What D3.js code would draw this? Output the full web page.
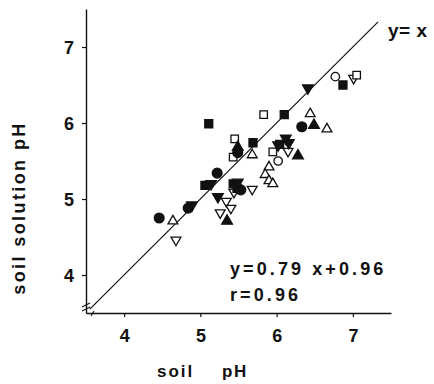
<!DOCTYPE html>
<html><head><meta charset="utf-8">
<script src="https://cdn.jsdelivr.net/npm/d3@7"></script>
<style>
html,body{margin:0;padding:0;background:#fff;}
svg{display:block;}
</style></head>
<body>
<svg id="chart" width="434" height="384"></svg>
<script>
// ---- data: [soil pH, soil solution pH] ----
const filledCircle = [[6.33,5.95],[5.49,5.61],[5.22,5.34],[5.53,5.12],[4.84,4.88],[4.46,4.75]];
const openCircle = [[6.77,6.61],[6.02,5.50]];
const filledSquare = [[6.87,6.50],[6.10,6.11],[5.11,5.99],[5.69,5.74],[6.04,5.72],[5.06,5.18],[5.43,5.20],[5.48,5.14]];
const openSquare = [[7.05,6.63],[5.83,6.11],[5.45,5.79],[5.43,5.55],[5.95,5.62]];
const filledTriUp = [[6.49,5.97],[5.49,5.68],[6.28,5.57],[5.35,4.71]];
const openTriUp = [[6.44,6.12],[6.66,5.92],[5.68,5.58],[5.90,5.42],[5.85,5.32],[5.90,5.24],[5.95,5.20],[4.64,4.71]];
const filledTriDown = [[6.41,6.46],[6.12,5.80],[6.16,5.74],[6.02,5.71],[5.14,5.20],[5.49,5.22],[5.23,5.03],[4.89,4.92]];
const openTriDown = [[7.01,6.59],[6.15,5.63],[5.68,5.13],[5.44,5.09],[5.34,4.97],[5.40,4.88],[5.26,4.82],[4.68,4.46]];
const xTicks = [4,5,6,7];
const yTicks = [4,5,6,7];
const identityLine = [[3.55,3.55],[7.33,7.33]];
const eqText = "y=0.79 x+0.96";
const rText = "r=0.96";

const svg = d3.select("#chart");
const x = d3.scaleLinear().domain([3.5,7.5]).range([86,391]);
const y = d3.scaleLinear().domain([3.5,7.5]).range([313,9]);
const ink = "#111";
const fmt = d3.format("d");

// axes
const xAxis = svg.append("g").attr("transform","translate(0,313)")
  .call(d3.axisBottom(x).tickValues(xTicks).tickFormat(fmt).tickSize(4).tickSizeOuter(0).tickPadding(9));
const yAxis = svg.append("g").attr("transform","translate(86,0)")
  .call(d3.axisLeft(y).tickValues(yTicks).tickFormat(fmt).tickSize(4).tickSizeOuter(0).tickPadding(8));
[xAxis,yAxis].forEach(g=>{
  g.select(".domain").attr("stroke",ink).attr("stroke-width",1.4);
  g.selectAll(".tick line").attr("stroke",ink).attr("stroke-width",1.2);
  g.selectAll(".tick text").attr("fill",ink)
    .style("font-family","'Liberation Sans',Arial,sans-serif")
    .style("font-weight","bold").style("font-size","18px");
});
xAxis.selectAll(".tick text").attr("dy","0.9em");
yAxis.selectAll(".tick text").attr("dy","0.36em");

// axis break marks
const brk = svg.append("g").attr("stroke",ink).attr("stroke-width",1.1);
[305,309].forEach(v=>{
  brk.append("line").attr("x1",82).attr("y1",v+2).attr("x2",90).attr("y2",v-2);
});
brk.append("line").attr("x1",91).attr("y1",316).attr("x2",94).attr("y2",311);

// y = x line
svg.append("path")
  .attr("d", d3.line().x(d=>x(d[0])).y(d=>y(d[1]))(identityLine))
  .attr("stroke",ink).attr("stroke-width",1.2).attr("fill","none");

// symbols
const sets = [
  {data:openTriUp, type:d3.symbolTriangle, size:42, fill:"#fff", rot:0},
  {data:openTriDown, type:d3.symbolTriangle, size:42, fill:"#fff", rot:180},
  {data:openSquare, type:d3.symbolSquare, size:56, fill:"#fff", rot:0},
  {data:openCircle, type:d3.symbolCircle, size:56, fill:"#fff", rot:0},
  {data:filledSquare, type:d3.symbolSquare, size:64, fill:ink, rot:0},
  {data:filledCircle, type:d3.symbolCircle, size:76, fill:ink, rot:0},
  {data:filledTriUp, type:d3.symbolTriangle, size:50, fill:ink, rot:0},
  {data:filledTriDown, type:d3.symbolTriangle, size:50, fill:ink, rot:180}
];
sets.forEach(s=>{
  svg.append("g").selectAll("path").data(s.data).join("path")
    .attr("d", d3.symbol().type(s.type).size(s.size)())
    .attr("transform", d=>`translate(${x(d[0])},${y(d[1])}) rotate(${s.rot})`)
    .attr("fill", s.fill).attr("stroke", ink).attr("stroke-width", 1.3);
});

// texts
const txt = (t,px,py,opts={})=>svg.append("text").text(t)
  .attr("x",px).attr("y",py).attr("fill",ink)
  .style("font-family","'Liberation Sans',Arial,sans-serif")
  .style("font-weight",opts.w||"bold").style("font-size",(opts.fs||17)+"px")
  .style("letter-spacing",(opts.ls||0)+"px")
  .attr("text-anchor",opts.anchor||"start");

txt("y= x",388,37,{fs:19,ls:0.5});
txt(eqText,230,275,{fs:18,ls:3.1,w:"600"});
txt(rText,230,301,{fs:18,ls:3.1,w:"600"});
txt("soil",157,377,{fs:17,ls:2});
txt("pH",222,377,{fs:17,ls:1.5});
svg.append("text").text("soil solution pH")
  .attr("transform","translate(25,208) rotate(-90)")
  .attr("text-anchor","middle").attr("fill",ink)
  .style("font-family","'Liberation Sans',Arial,sans-serif")
  .style("font-weight","bold").style("font-size","18px").style("letter-spacing","2.4px");
</script>
</body></html>
